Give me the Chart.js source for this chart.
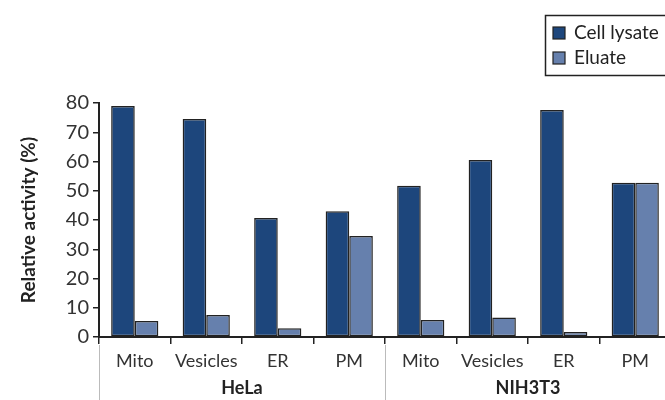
<!DOCTYPE html>
<html>
<head>
<meta charset="utf-8">
<script src="https://cdn.jsdelivr.net/npm/chart.js@4/dist/chart.umd.min.js"></script>
<style>
  html, body { margin: 0; padding: 0; background: #fff; overflow: hidden; }
  #wrap { width: 680px; height: 400px; }
</style>
</head>
<body>
<div id="wrap"><canvas id="chart" width="680" height="400"></canvas></div>
<script>
// data
const categories = ["Mito", "Vesicles", "ER", "PM", "Mito", "Vesicles", "ER", "PM"];
const groups = ["HeLa", "NIH3T3"];
const cellLysate = [79, 74.5, 40.7, 43, 51.7, 60.5, 77.6, 52.7];
const eluate = [5.5, 7.5, 3, 34.5, 5.8, 6.7, 1.7, 52.7];
const yTicks = [0, 10, 20, 30, 40, 50, 60, 70, 80];

const FONT = "Lato, 'Open Sans', sans-serif";

// legend with a frame, drawn by hand
const boxLegend = {
  id: "boxLegend",
  afterDraw(chart) {
    const ctx = chart.ctx;
    ctx.save();
    ctx.strokeStyle = "#222";
    ctx.lineWidth = 1.5;
    ctx.strokeRect(545.5, 15.5, 140, 60);
    ctx.font = "19px " + FONT;
    ctx.textBaseline = "middle";
    chart.data.datasets.forEach((ds, i) => {
      const y = 33 + i * 25;
      ctx.fillStyle = ds.backgroundColor;
      ctx.fillRect(553, y - 6, 12, 12);
      ctx.strokeStyle = "#222";
      ctx.lineWidth = 1.2;
      ctx.strokeRect(553, y - 6, 12, 12);
      ctx.fillStyle = "#222";
      ctx.fillText(ds.label, 574, y);
    });
    ctx.restore();
  }
};

// group names and separators under the x axis
const groupLabels = {
  id: "groupLabels",
  afterDraw(chart) {
    const ctx = chart.ctx;
    const x = chart.scales.x;
    const per = categories.length / groups.length;
    ctx.save();
    ctx.strokeStyle = "#bbb";
    ctx.lineWidth = 1;
    for (let g = 0; g <= groups.length; g++) {
      const px = Math.round(x.getPixelForValue(g * per - 0.5)) + 0.5;
      ctx.beginPath();
      ctx.moveTo(px, x.top + 8);
      ctx.lineTo(px, chart.height);
      ctx.stroke();
    }
    ctx.font = "bold 18px " + FONT;
    ctx.fillStyle = "#222";
    ctx.textAlign = "center";
    ctx.textBaseline = "middle";
    groups.forEach((name, g) => {
      const cx = x.getPixelForValue(g * per + (per - 1) / 2);
      ctx.fillText(name, cx, 388);
    });
    ctx.restore();
  }
};

new Chart(document.getElementById("chart").getContext("2d"), {
  type: "bar",
  data: {
    labels: categories,
    datasets: [
      {
        label: "Cell lysate",
        data: cellLysate,
        backgroundColor: "#1d467c",
        borderColor: "#222",
        borderWidth: 1.5,
        borderSkipped: false,
        categoryPercentage: 0.66,
        barPercentage: 1.0
      },
      {
        label: "Eluate",
        data: eluate,
        backgroundColor: "#6680ad",
        borderColor: "#222",
        borderWidth: 1.5,
        borderSkipped: false,
        categoryPercentage: 0.66,
        barPercentage: 1.0
      }
    ]
  },
  options: {
    responsive: false,
    animation: false,
    layout: { padding: { top: 103, right: 9, left: 0, bottom: 0 } },
    plugins: {
      legend: { display: false },
      tooltip: { enabled: false }
    },
    scales: {
      x: {
        offset: true,
        grid: {
          offset: true,
          drawOnChartArea: false,
          color: "#222",
          lineWidth: 1.5,
          tickLength: 7
        },
        border: { color: "#222", width: 2 },
        ticks: {
          color: "#333",
          font: { family: FONT, size: 18 },
          padding: 6,
          maxRotation: 0,
          autoSkip: false
        },
        afterFit: s => { s.height = 63; }
      },
      y: {
        min: 0,
        max: 80,
        afterBuildTicks: s => { s.ticks = yTicks.map(v => ({ value: v })); },
        grid: {
          drawOnChartArea: false,
          color: "#222",
          lineWidth: 1.5,
          tickLength: 6
        },
        border: { color: "#222", width: 2 },
        ticks: {
          color: "#333",
          font: { family: FONT, size: 20 },
          padding: 4
        },
        title: {
          display: true,
          text: "Relative activity (%)",
          color: "#222",
          font: { family: FONT, size: 19, weight: "bold" },
          padding: { top: 17, bottom: 4 }
        },
        afterFit: s => { s.width = 99; }
      }
    }
  },
  plugins: [boxLegend, groupLabels]
});
</script>
</body>
</html>
